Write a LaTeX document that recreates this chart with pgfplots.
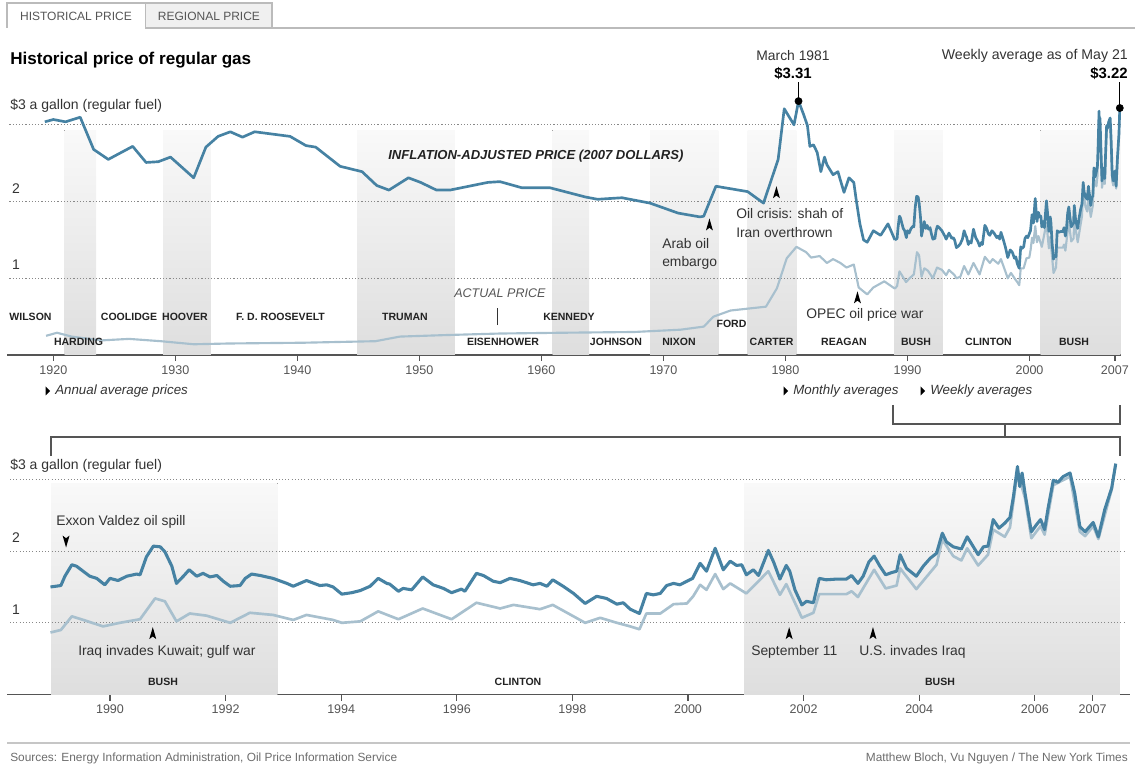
\documentclass[border=0pt]{standalone}
\usepackage{pgfplots}
\pgfplotsset{compat=1.18}
\usepackage{pgfplotstable}
\usepackage{fontspec}
\setmainfont{Liberation Sans}
\usetikzlibrary{shadings}
\definecolor{darkl}{HTML}{4682A3}
\definecolor{lightl}{HTML}{A8C0CE}
\definecolor{txt}{HTML}{333333}
\definecolor{pres}{HTML}{222222}
\definecolor{axc}{HTML}{555555}
\definecolor{gridc}{HTML}{888888}
\definecolor{tabc}{HTML}{BBBBBB}
\definecolor{tabfill}{HTML}{F0F0F0}
\definecolor{bandtop}{HTML}{F9F9F9}
\definecolor{bandbot}{HTML}{DEDEDE}
\newcommand{\fs}[1]{\fontsize{#1}{#1}\selectfont}
\newcommand{\arrup}[2]{\fill[black] (axis cs:#1,#2) -- ++(-2.6pt,-9pt) -- ++(2.6pt,2pt) -- ++(2.6pt,-2pt) -- cycle;}
\newcommand{\arrdown}[2]{\fill[black] (axis cs:#1,#2) -- ++(-2.6pt,9pt) -- ++(2.6pt,-2pt) -- ++(2.6pt,2pt) -- cycle;}

% inflation-adjusted price, 1919-1989 (annual / monthly)
\pgfplotstableread{
x y
1919.3 3.04
1920.0 3.07
1921.0 3.04
1922.2 3.10
1923.3 2.68
1924.5 2.55
1926.5 2.72
1927.6 2.51
1928.6 2.52
1929.6 2.58
1931.5 2.31
1932.5 2.71
1933.5 2.85
1934.5 2.91
1935.5 2.84
1936.5 2.91
1939.4 2.85
1940.7 2.73
1941.5 2.71
1943.5 2.46
1945.3 2.39
1946.5 2.21
1947.5 2.15
1949.1 2.31
1950.1 2.25
1951.4 2.15
1952.5 2.15
1955.6 2.25
1956.6 2.26
1958.4 2.18
1960.7 2.18
1963.6 2.06
1964.6 2.03
1966.6 2.05
1968.9 1.98
1971.2 1.85
1973.0 1.80
1973.3 1.81
1974.3 2.20
1976.9 2.13
1978.2 1.98
1979.4 2.55
1979.9 3.21
1980.7 3.00
1981.07 3.31
1981.5 3.13
1981.8 2.99
1982.0 2.72
1982.3 2.74
1982.6 2.64
1982.9 2.39
1983.2 2.58
1983.4 2.48
1983.9 2.35
1984.3 2.39
1984.5 2.28
1984.8 2.12
1985.2 2.31
1985.6 2.25
1985.8 2.02
1986.1 1.71
1986.4 1.50
1986.7 1.47
1987.2 1.62
1987.8 1.56
1988.4 1.71
1988.97 1.50
}\adjEarly

% actual price, 1919-1989
\pgfplotstableread{
x y
1919.4 0.25
1920.3 0.29
1921.5 0.24
1923.9 0.19
1926.2 0.21
1928.8 0.18
1931.5 0.14
1934.4 0.15
1940.5 0.16
1946.4 0.18
1948.4 0.24
1952.2 0.26
1956.6 0.28
1961.6 0.29
1967.6 0.30
1971.4 0.33
1973.3 0.37
1974.1 0.50
1975.5 0.58
1978.4 0.63
1979.3 0.87
1980.1 1.26
1980.9 1.41
1981.7 1.34
1982.1 1.27
1982.8 1.29
1983.4 1.20
1983.9 1.25
1984.5 1.20
1985.0 1.14
1985.6 1.18
1986.0 0.88
1986.7 0.79
1987.2 0.88
1988.1 0.96
1988.97 0.865
}\actEarly

% inflation-adjusted price, weekly, 1989-2007
\pgfplotstableread{
x y
1988.97 1.50
1989.15 1.52
1989.22 1.65
1989.34 1.81
1989.42 1.79
1989.65 1.65
1989.77 1.62
1989.91 1.53
1990.00 1.62
1990.14 1.59
1990.29 1.65
1990.46 1.68
1990.52 1.67
1990.63 1.92
1990.75 2.07
1990.87 2.06
1990.95 1.99
1991.07 1.79
1991.15 1.55
1991.27 1.65
1991.37 1.74
1991.50 1.65
1991.61 1.69
1991.73 1.64
1991.85 1.66
1991.96 1.58
1992.08 1.51
1992.25 1.52
1992.34 1.62
1992.45 1.68
1992.60 1.66
1992.82 1.62
1993.06 1.55
1993.17 1.51
1993.40 1.59
1993.63 1.52
1993.75 1.53
1993.86 1.50
1994.01 1.40
1994.18 1.42
1994.33 1.45
1994.50 1.51
1994.64 1.62
1994.79 1.55
1994.84 1.54
1994.99 1.44
1995.07 1.48
1995.22 1.46
1995.41 1.64
1995.59 1.53
1995.77 1.48
1995.91 1.42
1996.08 1.47
1996.14 1.44
1996.34 1.69
1996.46 1.66
1996.63 1.58
1996.75 1.56
1996.92 1.62
1997.09 1.59
1997.32 1.53
1997.44 1.55
1997.56 1.51
1997.66 1.60
1997.84 1.51
1998.02 1.41
1998.22 1.27
1998.42 1.37
1998.59 1.34
1998.77 1.26
1998.88 1.28
1999.00 1.19
1999.16 1.13
1999.28 1.41
1999.40 1.39
1999.52 1.41
1999.63 1.52
1999.75 1.55
1999.86 1.53
1999.98 1.58
2000.08 1.62
2000.21 1.83
2000.32 1.72
2000.47 2.04
2000.61 1.74
2000.73 1.86
2000.84 1.80
2000.93 1.81
2001.01 1.67
2001.13 1.74
2001.22 1.66
2001.39 2.01
2001.48 1.85
2001.59 1.61
2001.70 1.80
2001.76 1.72
2001.85 1.46
2001.97 1.25
2002.05 1.30
2002.17 1.28
2002.27 1.62
2002.39 1.60
2002.57 1.61
2002.74 1.61
2002.83 1.66
2002.94 1.55
2003.03 1.65
2003.13 1.85
2003.22 1.93
2003.32 1.79
2003.42 1.67
2003.52 1.70
2003.61 1.72
2003.67 1.95
2003.78 1.76
2003.95 1.65
2004.07 1.79
2004.19 1.90
2004.30 1.97
2004.40 2.25
2004.47 2.13
2004.59 2.06
2004.73 2.03
2004.83 2.20
2004.93 2.07
2005.02 1.95
2005.11 2.06
2005.19 2.07
2005.28 2.44
2005.38 2.32
2005.48 2.39
2005.57 2.47
2005.63 2.76
2005.70 3.18
2005.74 2.90
2005.78 3.09
2005.83 2.81
2005.94 2.27
2006.03 2.37
2006.10 2.44
2006.17 2.30
2006.23 2.60
2006.32 2.99
2006.40 2.96
2006.49 3.04
2006.61 3.09
2006.69 2.81
2006.78 2.34
2006.87 2.27
2007.01 2.40
2007.10 2.20
2007.21 2.58
2007.33 2.88
2007.40 3.22
}\adjLate

% actual price, weekly, 1989-2007
\pgfplotstableread{
x y
1988.97 0.865
1989.15 0.90
1989.34 1.09
1989.54 1.04
1989.88 0.95
1990.17 1.00
1990.52 1.05
1990.78 1.34
1990.95 1.30
1991.15 1.02
1991.38 1.13
1991.67 1.10
1992.08 1.00
1992.42 1.14
1992.82 1.11
1993.17 1.04
1993.40 1.11
1993.86 1.04
1994.01 1.00
1994.33 1.02
1994.64 1.16
1994.99 1.05
1995.41 1.20
1995.91 1.05
1996.34 1.28
1996.75 1.20
1996.98 1.25
1997.44 1.19
1997.66 1.25
1998.02 1.09
1998.22 1.00
1998.48 1.07
1998.77 1.00
1999.00 0.95
1999.16 0.91
1999.28 1.13
1999.52 1.13
1999.75 1.26
1999.98 1.27
2000.09 1.37
2000.21 1.53
2000.32 1.46
2000.47 1.68
2000.61 1.47
2000.73 1.55
2001.01 1.41
2001.39 1.72
2001.59 1.39
2001.70 1.54
2001.97 1.07
2002.17 1.14
2002.27 1.40
2002.74 1.40
2002.83 1.44
2002.94 1.36
2003.22 1.74
2003.42 1.48
2003.61 1.52
2003.67 1.76
2003.95 1.47
2004.30 1.81
2004.40 2.16
2004.59 1.93
2004.73 1.87
2004.83 2.04
2005.02 1.80
2005.19 1.95
2005.28 2.30
2005.48 2.20
2005.57 2.33
2005.70 3.11
2005.83 2.74
2005.94 2.18
2006.10 2.35
2006.17 2.23
2006.32 2.92
2006.61 3.04
2006.78 2.27
2006.87 2.21
2007.01 2.35
2007.10 2.17
2007.33 2.86
2007.40 3.22
}\actLate

\pgfplotsset{
  gasaxis/.style={
    scale only axis, anchor=south west, clip=false,
    ymin=0, ymax=3.4,
    axis x line=bottom, axis y line=none,
    x axis line style={-, draw=axc, line width=1.1pt},
    tick align=outside, major tick length=4.5pt,
    x tick style={draw=axc, line width=0.9pt},
    xticklabel style={font=\fs{9.4}, text=axc},
    /pgf/number format/assume math mode=true,
    ytick=\empty,
  },
}
\tikzset{
  band/.style={top color=bandtop, bottom color=bandbot, draw=none},
  dgrid/.style={draw=gridc, line width=0.8pt, dash pattern=on 0.8pt off 1.6pt},
}

\begin{document}
\begin{tikzpicture}
% ---------- top panel ----------
\begin{axis}[gasaxis, at={(5.25pt,307.5pt)}, width=835.5pt, height=195.6pt,
  xmin=1916.2, xmax=2007.5,
  xtick={1920,1930,1940,1950,1960,1970,1980,1990,2000,2007},
  xticklabels={1920,1930,1940,1950,1960,1970,1980,1990,2000,2007}]
\fill[band] (axis cs:1920.9,0) rectangle (axis cs:1923.5,2.93);
\fill[band] (axis cs:1929.0,0) rectangle (axis cs:1932.9,2.93);
\fill[band] (axis cs:1944.9,0) rectangle (axis cs:1952.9,2.93);
\fill[band] (axis cs:1960.9,0) rectangle (axis cs:1963.9,2.93);
\fill[band] (axis cs:1968.9,0) rectangle (axis cs:1974.5,2.93);
\fill[band] (axis cs:1976.9,0) rectangle (axis cs:1980.9,2.93);
\fill[band] (axis cs:1988.9,0) rectangle (axis cs:1992.9,2.93);
\fill[band] (axis cs:2000.9,0) rectangle (axis cs:2007.45,2.93);
\draw[dgrid] (axis cs:1916.4,1) -- (axis cs:2007.5,1);
\draw[dgrid] (axis cs:1916.4,2) -- (axis cs:2007.5,2);
\draw[dgrid] (axis cs:1916.4,3) -- (axis cs:2007.5,3);
\addplot[lightl, line width=1.6pt, line join=round] table[x=x,y=y] {\actEarly};
\addplot[lightl, line width=1.6pt, line join=round] table[x=x,y=y] {\actLate};
\addplot[darkl, line width=2pt, line join=round] table[x=x,y=y] {\adjEarly};
\addplot[darkl, line width=2pt, line join=round] table[x=x,y=y] {\adjLate};
\draw[black, line width=0.9pt] (axis cs:1981.07,3.31) -- ++(0pt,14.5pt);
\draw[black, line width=0.9pt] (axis cs:2007.40,3.22) -- ++(0pt,19.5pt);
\addplot[only marks, mark=*, mark size=2.7pt, black] coordinates {(1981.07,3.31) (2007.40,3.22)};
\draw[txt, line width=0.8pt] (axis cs:1956.4,0.39) -- (axis cs:1956.4,0.61);
\arrup{1979.26}{2.20}
\arrup{1973.77}{1.78}
\arrup{1985.9}{0.83}
\end{axis}

% ---------- bottom panel ----------
\begin{axis}[gasaxis, at={(5.25pt,52.875pt)}, width=842.25pt, height=182.8pt,
  xmin=1988.218, xmax=2007.647,
  xtick={1990,1992,1994,1996,1998,2000,2002,2004,2006,2007},
  xticklabels={1990,1992,1994,1996,1998,2000,2002,2004,2006,2007}]
\fill[band] (axis cs:1988.98,0) rectangle (axis cs:1992.9,2.95);
\fill[band] (axis cs:2000.97,0) rectangle (axis cs:2007.47,2.95);
\draw[dgrid] (axis cs:1988.27,1) -- (axis cs:2007.55,1);
\draw[dgrid] (axis cs:1988.27,2) -- (axis cs:2007.55,2);
\draw[dgrid] (axis cs:1988.27,3) -- (axis cs:2007.55,3);
\addplot[lightl, line width=2pt, line join=round] table[x=x,y=y] {\actLate};
\addplot[darkl, line width=2.3pt, line join=round] table[x=x,y=y] {\adjLate};
\arrdown{1989.24}{2.05}
\arrup{1990.74}{0.94}
\arrup{2001.75}{0.94}
\arrup{2003.2}{0.94}
\end{axis}

\begin{scope}[x=0.75pt,y=0.75pt]
% tabs
\fill[tabfill] (145.5,737) rectangle (272,762);
\draw[tabc, line width=0.8pt] (145.5,737) rectangle (272,762);
\draw[tabc, line width=0.8pt] (7,737) -- (7,762) -- (145.5,762);
\draw[tabc, line width=0.8pt] (272,737) -- (1135,737);
\node[font=\fs{9}, text=axc] at (76,749) {HISTORICAL PRICE};
\node[font=\fs{9}, text=axc] at (209,749) {REGIONAL PRICE};
% title
\node[anchor=west, font=\bfseries\fs{12.8}, text=black, inner sep=0pt] at (10,705) {Historical price of regular gas};

% top labels
\node[anchor=west, font=\fs{10.5}, text=txt, inner sep=0pt] at (10,659) {\$3 a gallon (regular fuel)};
\node[font=\fs{10.5}, text=txt, inner sep=0pt] at (16,576) {2};
\node[font=\fs{10.5}, text=txt, inner sep=0pt] at (16,500) {1};
\node[anchor=west, font=\bfseries\itshape\fs{9.8}, text=pres, inner sep=0pt] at (388,609) {INFLATION-ADJUSTED PRICE (2007 DOLLARS)};
\node[anchor=west, font=\itshape\fs{9.4}, text=axc, inner sep=0pt] at (454,472) {ACTUAL PRICE};
\node[font=\fs{10.4}, text=txt, inner sep=0pt] at (793,709) {March 1981};
\node[font=\bfseries\fs{11.2}, text=black, inner sep=0pt] at (793,691) {\$3.31};
\node[anchor=east, font=\fs{10.6}, text=txt, inner sep=0pt] at (1128,709) {Weekly average as of May 21};
\node[anchor=east, font=\bfseries\fs{11.2}, text=black, inner sep=0pt] at (1128,691) {\$3.22};
\node[anchor=west, font=\fs{10.4}, text=txt, inner sep=0pt] at (736,551) {Oil crisis: shah of};
\node[anchor=west, font=\fs{10.4}, text=txt, inner sep=0pt] at (736,532) {Iran overthrown};
\node[anchor=west, font=\fs{10.4}, text=txt, inner sep=0pt] at (662,521) {Arab oil};
\node[anchor=west, font=\fs{10.4}, text=txt, inner sep=0pt] at (662,502) {embargo};
\node[anchor=west, font=\fs{10.4}, text=txt, inner sep=0pt] at (806,450) {OPEC oil price war};
% presidents
\begin{scope}[every node/.style={font=\bfseries\fs{7.9}, text=pres, inner sep=0pt}]
\node at (30.5,448) {WILSON};
\node at (78.6,423) {HARDING};
\node at (129,448) {COOLIDGE};
\node at (185,448) {HOOVER};
\node at (280.5,448) {F. D. ROOSEVELT};
\node at (405,448) {TRUMAN};
\node at (503,423) {EISENHOWER};
\node at (569,448) {KENNEDY};
\node at (616,423) {JOHNSON};
\node at (679,423) {NIXON};
\node at (731.5,441) {FORD};
\node at (771.6,423) {CARTER};
\node at (844,423) {REAGAN};
\node at (916,423) {BUSH};
\node at (988.5,423) {CLINTON};
\node at (1074,423) {BUSH};
\node at (163,83) {BUSH};
\node at (518,83) {CLINTON};
\node at (940,83) {BUSH};
\end{scope}
% period notes
\fill[black] (45.5,378.5) -- (50,374) -- (45.5,369.5) -- cycle;
\fill[black] (783.5,378.5) -- (788,374) -- (783.5,369.5) -- cycle;
\fill[black] (920.5,378.5) -- (925,374) -- (920.5,369.5) -- cycle;
\node[anchor=west, font=\itshape\fs{10}, text=txt, inner sep=0pt] at (55,374) {Annual average prices};
\node[anchor=west, font=\itshape\fs{10}, text=txt, inner sep=0pt] at (793,374) {Monthly averages};
\node[anchor=west, font=\itshape\fs{10}, text=txt, inner sep=0pt] at (930,374) {Weekly averages};
% brackets
\draw[axc, line width=1pt] (893,360) -- (893,341) -- (1120,341) -- (1120,360);
\draw[axc, line width=1pt] (1005,341) -- (1005,328);
\draw[axc, line width=1pt] (51,309) -- (51,328) -- (1120,328) -- (1120,309);

% bottom labels
\node[anchor=west, font=\fs{10.5}, text=txt, inner sep=0pt] at (10,299) {\$3 a gallon (regular fuel)};
\node[font=\fs{10.5}, text=txt, inner sep=0pt] at (16,227) {2};
\node[font=\fs{10.5}, text=txt, inner sep=0pt] at (16,155) {1};
\node[anchor=west, font=\fs{10.4}, text=txt, inner sep=0pt] at (56,243) {Exxon Valdez oil spill};
\node[anchor=west, font=\fs{10.4}, text=txt, inner sep=0pt] at (78,113) {Iraq invades Kuwait; gulf war};
\node[anchor=west, font=\fs{10.4}, text=txt, inner sep=0pt] at (751,113) {September 11};
\node[anchor=west, font=\fs{10.4}, text=txt, inner sep=0pt] at (859,113) {U.S. invades Iraq};

% footer
\draw[gray!45, line width=0.9pt] (7,22) -- (1130,22);
\node[anchor=west, font=\fs{8.9}, text=gray!85!black, inner sep=0pt] at (10,7) {Sources: Energy Information Administration, Oil Price Information Service};
\node[anchor=east, font=\fs{8.9}, text=gray!85!black, inner sep=0pt] at (1128,7) {Matthew Bloch, Vu Nguyen / The New York Times};
\end{scope}

\pgfresetboundingbox
\useasboundingbox (0pt,0pt) rectangle (851.25pt,573.75pt);
\end{tikzpicture}
\end{document}
